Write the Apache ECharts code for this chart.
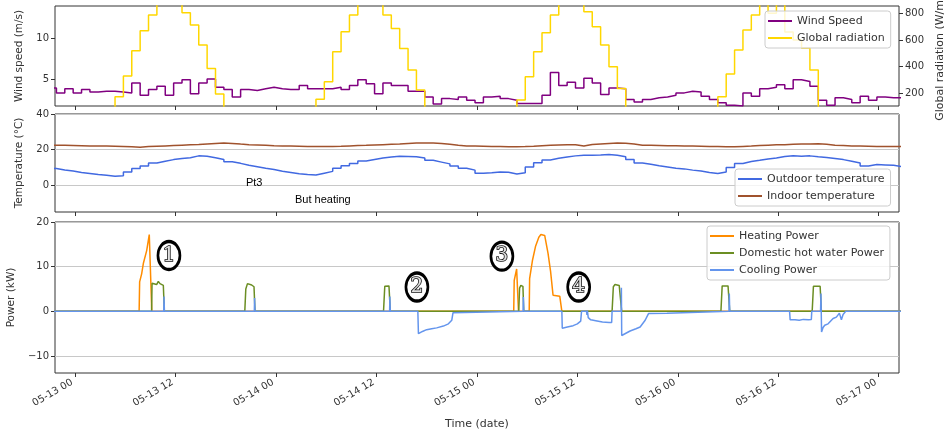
<!DOCTYPE html>
<html><head><meta charset="utf-8">
<script src="https://cdn.jsdelivr.net/npm/echarts@6/dist/echarts.min.js"></script>
<style>html,body{margin:0;padding:0;background:#fff}#c{width:944px;height:435px}</style>
</head><body><div id="c"></div>
<script>
// x values are hours relative to 05-13 00:00
const HOUR0 = -3.22; // first hourly weather sample (05-12 20:47)
const windSpeed = [3.9,3.3,3.8,3.3,3.7,3.4,3.5,3.5,3.4,3.3,
 4.5,3.0,3.7,4.1,3.0,4.5,4.9,3.2,4.5,5.0,
 4.0,3.7,2.8,3.7,3.6,3.8,4.0,3.8,3.7,3.7,
 4.2,3.8,3.8,3.8,4.0,3.7,4.2,4.9,4.4,3.2,
 4.5,4.2,4.2,3.5,3.5,2.8,1.95,2.6,2.5,2.8,
 2.4,2.1,2.8,2.9,2.6,2.4,2.0,2.0,2.0,3.0,
 5.8,4.2,4.6,3.9,5.1,4.5,3.1,3.9,3.8,2.5,
 2.2,2.5,2.7,2.8,3.0,3.3,3.5,3.4,2.9,2.5,
 2.1,1.8,1.7,3.3,2.9,3.8,4.0,4.3,3.8,4.9,
 4.7,4.1,2.4,1.8,2.7,2.5,2.1,2.9,2.4,2.8,
 2.7,2.7,2.7];
const globalRadiation = [0,0,0,0,0,0,0,0,
 175,330,520,670,787,880,920,890,805,712,562,387,195,
 0,0,0,0,0,0,0,0,0,0,0,
 155,287,512,662,787,880,920,890,787,687,537,375,225,
 0,0,0,0,0,0,0,0,0,0,0,
 150,325,512,655,787,880,910,880,812,700,562,400,237,
 0,0,0,0,0,0,0,0,0,0,0,
 175,345,525,675,787,870,800,870,660,600,540,375,
 0,0,0,0,0,0,0,0,0,0,0];
const outdoorTemp = [9.4,8.6,8.0,7.2,6.6,6.0,5.6,5.1,5.4,7.5,
 9.4,10.8,12.5,13.5,14.4,15.0,15.4,16.5,16.3,15.5,
 14.5,13.2,12.3,11.2,10.4,9.5,8.8,7.9,7.2,6.5,
 6.0,5.8,6.8,7.8,9.6,11.0,12.2,13.6,14.5,15.3,
 15.8,16.3,16.2,16.0,15.3,14.0,13.0,12.0,10.8,9.6,
 8.5,6.8,7.0,7.5,7.3,6.3,7.0,10.3,12.7,14.2,
 15.2,15.9,16.5,16.9,16.9,17.0,17.3,16.9,16.0,14.5,
 12.5,11.8,11.0,10.3,9.6,9.2,8.5,8.0,7.2,6.6,
 7.5,10.0,12.2,13.3,14.0,14.8,15.3,16.2,16.5,16.3,
 16.5,16.0,15.6,15.0,14.4,13.5,12.5,10.8,11.6,11.4,
 11.2,10.5,10.3];
const indoorTemp = [22.5,22.5,22.4,22.3,22.2,22.1,22.1,22.0,21.9,21.8,
 21.6,21.3,21.7,21.9,22.1,22.3,22.5,22.7,22.9,23.2,
 23.5,23.7,23.5,23.1,22.8,22.6,22.4,22.2,22.1,22.0,
 21.9,21.8,21.7,21.7,21.8,21.9,22.1,22.3,22.4,22.6,
 22.8,23.0,23.2,23.5,23.7,23.7,23.7,23.5,23.0,22.5,
 22.1,22.0,21.9,21.8,21.7,21.6,21.6,21.7,21.9,22.2,
 22.4,22.6,22.7,22.8,22.0,22.9,23.2,23.5,23.7,23.6,
 23.2,22.5,22.4,22.3,22.2,22.2,22.1,22.0,21.9,21.8,
 21.7,21.6,21.6,21.8,22.0,22.3,22.5,22.7,22.8,23.0,
 23.1,23.2,23.3,23.0,22.5,22.3,22.1,22.0,21.9,21.8,
 21.7,21.7,21.7];

const heatingT = [-3,7.66,7.72,7.96,8.16,8.56,8.87,9.07,9.17,
 52.40,52.46,52.75,52.80,52.97,
 54.25,54.30,54.65,55.0,55.4,55.65,56.1,56.5,56.8,57.1,57.9,58.15,99];
const heatingV = [0,0,6.6,8.4,10.7,13.6,17.2,17.2,0,
 0,6.9,9.5,9.4,0,
 0,7.3,11.5,14.5,16.6,17.2,17.0,13.0,9.0,3.6,3.4,0,0];

const dhwT = [-3,9.15,9.2,9.4,9.75,9.95,10.15,10.55,10.67,
 20.28,20.4,20.6,21.1,21.38,21.5,
 36.85,37.0,37.15,37.5,37.58,37.66,
 53.0,53.1,53.25,53.5,53.53,53.6,
 64.15,64.3,64.5,65.0,65.2,65.3,
 77.15,77.3,77.5,78.0,78.12,78.2,
 88.05,88.2,88.4,89.0,89.07,89.15,99];
const dhwV = [0,0,6.3,6.0,6.0,6.7,6.2,5.8,0,
 0,5.0,6.2,5.9,5.5,0,
 0,5.6,6.0,5.7,5.6,0,
 0,5.2,5.8,5.6,5.5,0,
 0,5.5,6.0,5.8,5.6,0,
 0,5.7,6.0,5.7,5.6,0,
 0,5.6,5.8,5.6,5.5,0,0];

const coolingT = [-3,10.6,10.63,10.68,21.42,21.45,21.5,37.58,37.61,37.66,
 40.95,41.02,41.5,42.0,42.6,43.2,44.0,44.6,45.0,45.15,45.25,
 53.52,53.55,53.6,
 58.15,58.2,58.8,59.5,60.0,60.4,60.5,61.1,61.15,61.2,61.3,61.6,62.2,63.0,63.8,64.1,64.15,
 65.24,65.26,65.3,65.8,66.3,67.0,67.5,68.1,68.5,70.7,70.8,
 78.12,78.15,78.2,
 85.35,85.42,86.0,86.5,87.0,87.6,87.95,88.0,
 89.05,89.1,89.17,89.35,89.55,89.95,90.55,90.94,91.3,91.54,91.74,92.06,99];
const coolingV = [0,0,3.3,0,0,3.0,0,0,3.3,0,
 0,-5.0,-4.5,-4.1,-3.9,-3.7,-3.3,-2.8,-2.0,-0.3,0,
 0,3.2,0,
 0,-3.8,-3.5,-3.2,-2.8,-2.2,0,0,-0.8,0.2,-1.4,-1.9,-2.1,-2.4,-2.5,-2.5,0,
 0,5.3,-5.4,-4.9,-4.4,-3.9,-3.5,-2.0,-0.5,-0.4,0,
 0,4.0,0,
 0,-1.9,-1.9,-2.0,-1.8,-1.9,-1.8,0,
 0,4.0,-4.6,-3.6,-3.1,-2.8,-1.6,-1.3,-0.4,-1.9,-0.7,0,0];

const xTicks = [0,12,24,36,48,60,72,84,96];
const xTickLabels = ['05-13 00','05-13 12','05-14 00','05-14 12','05-15 00','05-15 12','05-16 00','05-16 12','05-17 00'];
const windTicks = [5,10];
const radTicks = [200,400,600,800];
const tempTicks = [0,20,40];
const powerTicks = [-10,0,10,20];

// circled event markers: [hour, kW, label]
const eventMarks = [[11.22,12.5,'1'],[40.84,5.44,'2'],[50.99,12.35,'3'],[60.16,5.44,'4']];
// text notes on temperature panel: [hour, °C, text]
const tempNotes = [[21.4,1.1,'Pt3'],[29.6,-8.5,'But heating']];

const pairs = (ts, vs) => ts.map((t, i) => [t, vs[i]]);
const hourly = vs => vs.map((v, k) => [HOUR0 + k, v]);

const FONT = 'DejaVu Sans';
const TXT = '#333';
const minusFmt = v => (v < 0 ? '\u2212' + Math.abs(v) : String(v));
const XMIN = -2.39, XMAX = 98.42;

function xAxis(i) {
  const a = {
    type: 'value', gridIndex: i, min: XMIN, max: XMAX,
    axisLine: {show: false, onZero: false},
    axisTick: {show: true, customValues: xTicks, length: 4, lineStyle: {color: TXT}},
    axisLabel: {show: i === 2, customValues: xTicks, rotate: 30, fontSize: 10, color: TXT, fontFamily: FONT, margin: 7,
      hideOverlap: false, formatter: v => xTickLabels[xTicks.indexOf(v)] + ' '},
    splitLine: {show: false}
  };
  if (i === 2) {
    a.name = 'Time (date)'; a.nameLocation = 'middle'; a.nameGap = 46;
    a.nameTextStyle = {fontSize: 11, color: TXT, fontFamily: FONT};
  }
  return a;
}
function yAxis(grid, min, max, ticks, name, opts) {
  return Object.assign({
    type: 'value', gridIndex: grid, min: min, max: max,
    axisLine: {show: false, onZero: false},
    axisTick: {show: true, customValues: ticks, length: 4, lineStyle: {color: TXT}},
    axisLabel: {customValues: ticks, fontSize: 10, color: TXT, fontFamily: FONT, margin: 6, formatter: minusFmt},
    splitLine: {show: false},
    name: name, nameLocation: 'middle', nameGap: 30,
    nameTextStyle: {fontSize: 10.5, color: TXT, fontFamily: FONT}
  }, opts || {});
}
const legendBase = {
  orient: 'vertical', icon: 'rect', itemWidth: 24, itemHeight: 2, itemGap: 3,
  selectedMode: false, padding: [3, 6, 3, 3],
  backgroundColor: 'rgba(255,255,255,0.8)', borderColor: '#ccc', borderWidth: 1, borderRadius: 3,
  textStyle: {fontSize: 11, color: TXT, fontFamily: FONT, lineHeight: 14}
};
const lineS = (name, xi, yi, data, color, step) => ({
  name: name, type: 'line', xAxisIndex: xi, yAxisIndex: yi, data: data,
  step: step || false, symbol: 'none', color: color,
  lineStyle: {color: color, width: 1.5}, animation: false, clip: true
});
const ellipse = 'path://M0 50A50 50 0 1 0 100 50A50 50 0 1 0 0 50Z';

const cooling = lineS('Cooling Power', 2, 3, pairs(coolingT, coolingV), '#6495ed');
cooling.markPoint = {
  animation: false,
  data: eventMarks.map(m => ({
    coord: [m[0], m[1]], symbol: ellipse, symbolSize: [22, 28],
    itemStyle: {color: '#fff', borderColor: '#000', borderWidth: 3},
    label: {show: true, position: 'inside', formatter: m[2], fontSize: 20, fontFamily: 'DejaVu Serif',
      color: '#e0e0e0', textBorderColor: '#111', textBorderWidth: 1.6}
  }))
};
const outdoor = lineS('Outdoor temperature', 1, 2, hourly(outdoorTemp), '#4169e1', 'end');
outdoor.markPoint = {
  animation: false,
  data: tempNotes.map(n => ({
    coord: [n[0], n[1]], symbol: 'rect', symbolSize: 1, itemStyle: {color: 'rgba(0,0,0,0)'},
    label: {show: true, position: 'inside', formatter: n[2], fontSize: 11, color: '#000', fontFamily: 'Liberation Sans'}
  }))
};
const gridBase = {left: 55, right: 45, show: true, borderColor: '#333', borderWidth: 1,
  containLabel: false, outerBoundsMode: 'none'};

const option = {
  animation: false,
  textStyle: {fontFamily: FONT},
  grid: [
    Object.assign({}, gridBase, {top: 6, height: 100}),
    Object.assign({}, gridBase, {top: 114, height: 98}),
    Object.assign({}, gridBase, {top: 222, height: 151})
  ],
  xAxis: [xAxis(0), xAxis(1), xAxis(2)],
  yAxis: [
    yAxis(0, 1.7, 13.9, windTicks, 'Wind speed (m/s)'),
    yAxis(0, 105, 855, radTicks, 'Global radiation (W/m\u00b2)', {position: 'right', nameRotate: 90, nameGap: 30,
      nameTextStyle: {fontSize: 11, color: TXT, fontFamily: FONT}}),
    yAxis(1, -15, 40, tempTicks, 'Temperature (\u00b0C)', {splitLine: {show: true, lineStyle: {color: '#c8c8c8', width: 1}}}),
    yAxis(2, -13.8, 20, powerTicks, 'Power (kW)', {splitLine: {show: true, lineStyle: {color: '#c8c8c8', width: 1}}})
  ],
  legend: [
    Object.assign({}, legendBase, {left: 765, top: 11, data: ['Wind Speed', 'Global radiation']}),
    Object.assign({}, legendBase, {left: 735, top: 169, data: ['Outdoor temperature', 'Indoor temperature']}),
    Object.assign({}, legendBase, {left: 707, top: 226, data: ['Heating Power', 'Domestic hot water Power', 'Cooling Power']})
  ],
  series: [
    lineS('Wind Speed', 0, 0, hourly(windSpeed), '#800080', 'end'),
    lineS('Global radiation', 0, 1, hourly(globalRadiation), '#ffd700', 'end'),
    outdoor,
    lineS('Indoor temperature', 1, 2, hourly(indoorTemp), '#a0522d'),
    lineS('Heating Power', 2, 3, pairs(heatingT, heatingV), '#ff8c00'),
    lineS('Domestic hot water Power', 2, 3, pairs(dhwT, dhwV), '#6b8e23'),
    cooling
  ]
};
const chart = echarts.init(document.getElementById('c'), null, {renderer: 'canvas'});
chart.setOption(option);
</script></body></html>
